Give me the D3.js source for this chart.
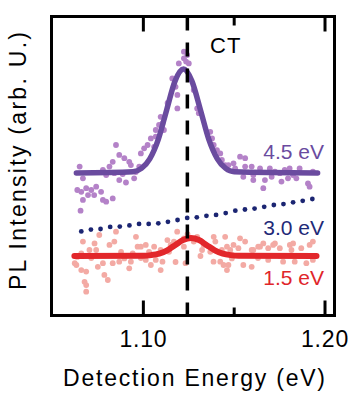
<!DOCTYPE html>
<html><head><meta charset="utf-8">
<script src="https://cdn.jsdelivr.net/npm/d3@7"></script>
<style>body{margin:0;background:#fff}svg{display:block}text{font-family:"Liberation Sans",Arial,Helvetica,sans-serif}</style>
</head><body><svg id="c" width="356" height="400"></svg>
<script>
const xMajorTicks = [1.10, 1.20];
const xMinorTicks = [1.15];
const ctEnergy = 1.1245;

const purpleEnergy = [1.0652,1.0670,1.0639,1.0661,1.0688,1.0716,1.0743,1.0770,1.0657,1.0670,1.0780,1.0798,1.0732,1.0698,1.0834,1.0780,1.0798,1.0816,1.0843,1.0852,1.0834,1.0870,1.0898,1.0925,1.0952,1.0934,1.0989,1.0980,1.1007,1.1026,1.1044,1.1071,1.1089,1.0870,1.1098,1.1108,1.1062,1.1116,1.1162,1.1180,1.1190,1.1190,1.1198,1.1226,1.1244,1.1253,1.1226,1.1280,1.1299,1.1308,1.1371,1.1381,1.1390,1.1408,1.1426,1.1435,1.1453,1.1499,1.1535,1.1553,1.1471,1.1508,1.1563,1.1563,1.1599,1.1608,1.1608,1.1645,1.1663,1.1672,1.1699,1.1709,1.1727,1.1763,1.1781,1.1799,1.1808,1.1845,1.1863,1.1909,1.1918,1.1936,1.1827,1.1754,1.1071,1.1136,1.1238,1.0889,1.0961,1.0907];
const purpleIntensity = [49.8,45.9,42.0,41.4,42.6,42.0,43.1,41.4,35.1,38.7,38.7,38.1,40.3,40.3,39.2,48.7,47.0,49.8,47.6,57.0,51.4,53.7,52.6,51.4,45.9,50.3,54.2,49.8,55.9,57.0,59.2,62.0,63.7,45.3,66.4,64.2,56.4,62.0,79.2,76.4,73.7,69.2,84.2,88.1,87.0,84.2,85.9,75.3,69.2,67.6,61.4,59.2,57.0,55.3,54.2,52.0,50.3,50.9,53.1,46.4,50.3,49.2,52.6,49.8,49.8,45.3,47.0,49.2,42.6,45.3,49.2,46.4,48.1,44.8,48.7,45.9,49.2,45.9,49.2,44.2,43.1,48.1,47.0,47.6,59.8,71.0,84.8,47.3,48.0,44.5];

const purpleFitEnergy = [1.0634,1.0945,1.0992,1.1038,1.1085,1.1131,1.1177,1.1224,1.1270,1.1317,1.1363,1.1410,1.1456,1.1503,1.1962];
const purpleFitIntensity = [47.7,48.1,49.2,52.4,58.9,68.7,78.3,82.3,78.3,68.7,58.9,52.4,49.2,48.1,47.7];

const navyEnergy = [1.0661,1.0714,1.0767,1.0820,1.0873,1.0926,1.0979,1.1032,1.1085,1.1138,1.1191,1.1244,1.1297,1.1350,1.1403,1.1456,1.1509,1.1562,1.1615,1.1668,1.1721,1.1774,1.1827,1.1880,1.1933];
const navyIntensity = [28.2,28.8,29.0,29.7,29.8,30.2,30.7,30.7,30.9,31.4,32.0,32.7,32.9,33.4,33.7,34.3,35.1,35.5,35.8,36.4,37.0,37.3,37.9,38.4,39.0];

const pinkEnergy = [1.0670,1.0634,1.0661,1.0688,1.0679,1.0688,1.0688,1.0734,1.0706,1.0743,1.0752,1.0780,1.0788,1.0807,1.0816,1.0843,1.0852,1.0834,1.0880,1.0898,1.0934,1.0925,1.0962,1.0971,1.0989,1.1016,1.1034,1.1062,1.1071,1.0625,1.0661,1.0870,1.0944,1.1016,1.1098,1.1135,1.1153,1.1171,1.1108,1.1098,1.1189,1.1226,1.1226,1.1280,1.1299,1.1335,1.1326,1.1371,1.1399,1.1389,1.1426,1.1453,1.1463,1.1463,1.1435,1.1490,1.1235,1.1144,1.1481,1.1499,1.1526,1.1563,1.1599,1.1635,1.1663,1.1727,1.1690,1.1754,1.1809,1.1818,1.1872,1.1936,1.1471,1.1553,1.1599,1.1836,1.1772,1.1900,1.1936,1.1690,1.1490,1.1390,1.1535,1.1645,1.1717,1.1827,1.1918,1.1608,1.1444,1.0639,1.0716,1.0760,1.0989,1.1044,1.1180,1.1246,1.1317,1.1634,1.1754,1.1863];
const pinkIntensity = [24.8,17.0,15.3,14.8,11.4,8.1,10.3,24.2,22.0,22.0,16.4,17.6,13.7,12.0,23.7,24.8,28.1,17.6,21.4,19.2,18.1,15.9,26.4,23.1,23.1,23.7,21.4,23.1,18.7,17.6,20.9,18.1,20.9,18.7,22.0,25.3,23.7,24.8,18.1,15.3,28.1,25.9,23.1,24.8,26.4,23.7,22.0,21.4,24.8,18.1,18.1,26.4,23.1,15.3,22.0,19.2,17.6,21.4,22.0,23.7,22.6,24.8,22.0,23.1,24.2,24.2,22.6,22.6,23.7,22.0,22.6,24.8,17.0,17.0,16.4,18.1,18.1,17.6,18.7,18.7,20.3,26.4,25.9,23.1,23.7,24.2,23.7,22.0,17.0,19.7,19.3,27.0,19.3,17.0,18.0,27.3,20.0,19.3,20.0,20.0];

const redFitEnergy = [1.0623,1.1003,1.1046,1.1090,1.1134,1.1177,1.1221,1.1265,1.1309,1.1352,1.1396,1.1440,1.1483,1.1527,1.1956];
const redFitIntensity = [20.0,20.1,20.3,20.8,21.9,23.6,25.3,26.0,25.3,23.6,21.9,20.8,20.3,20.1,20.0];

const seriesLabels = ["4.5 eV", "3.0 eV", "1.5 eV"];

const svg = d3.select("#c");
const L = 51.5, R = 334.5, T = 16.5, B = 315.5;
const x = d3.scaleLinear().domain([1.0497, 1.2055]).range([L, R]);
const y = d3.scaleLinear().domain([0, 100]).range([316, 16]);

const zip = (a, b) => a.map((v, i) => [v, b[i]]);

// pink scatter
svg.append("g").selectAll("circle").data(zip(pinkEnergy, pinkIntensity)).join("circle")
  .attr("cx", d => x(d[0])).attr("cy", d => y(d[1])).attr("r", 2.9).attr("fill", "#f3aaa4");
// purple scatter
svg.append("g").selectAll("circle").data(zip(purpleEnergy, purpleIntensity)).join("circle")
  .attr("cx", d => x(d[0])).attr("cy", d => y(d[1])).attr("r", 2.9).attr("fill", "#b482c8");

const line = d3.line().x(d => x(d[0])).y(d => y(d[1])).curve(d3.curveMonotoneX);
svg.append("path").datum(zip(redFitEnergy, redFitIntensity)).attr("d", line)
  .attr("fill", "none").attr("stroke", "#e2272b").attr("stroke-width", 6).attr("stroke-linecap", "round");
svg.append("path").datum(zip(purpleFitEnergy, purpleFitIntensity)).attr("d", line)
  .attr("fill", "none").attr("stroke", "#6a4b9f").attr("stroke-width", 5.5).attr("stroke-linecap", "round");

// navy dots
svg.append("g").selectAll("circle").data(zip(navyEnergy, navyIntensity)).join("circle")
  .attr("cx", d => x(d[0])).attr("cy", d => y(d[1])).attr("r", 2.4).attr("fill", "#1b2572");

// dashed CT line
svg.append("line").attr("x1", x(ctEnergy)).attr("x2", x(ctEnergy)).attr("y1", T).attr("y2", B)
  .attr("stroke", "#000").attr("stroke-width", 3.5).attr("stroke-dasharray", "14,12");

// axes ticks
function styleAxis(g) {
  g.select(".domain").remove();
  g.selectAll(".tick line").attr("stroke", "#000").attr("stroke-width", 3);
}
svg.append("g").attr("transform", `translate(0,${B})`)
  .call(d3.axisBottom(x).tickValues(xMajorTicks).tickSizeInner(-15).tickSizeOuter(0).tickPadding(15).tickFormat(d3.format(".2f")))
  .call(styleAxis)
  .call(g => g.selectAll(".tick text").attr("font-size", 23).attr("fill", "#000").attr("letter-spacing", 0.8)
    .attr("font-family", '"Liberation Sans",Arial,sans-serif'));
svg.append("g").attr("transform", `translate(0,${B})`)
  .call(d3.axisBottom(x).tickValues(xMinorTicks).tickSizeInner(-8).tickSizeOuter(0).tickFormat(""))
  .call(styleAxis);
svg.append("g").attr("transform", `translate(0,${T})`)
  .call(d3.axisTop(x).tickValues(xMajorTicks).tickSizeInner(-15).tickSizeOuter(0).tickFormat(""))
  .call(styleAxis);
svg.append("g").attr("transform", `translate(0,${T})`)
  .call(d3.axisTop(x).tickValues(xMinorTicks).tickSizeInner(-9).tickSizeOuter(0).tickFormat(""))
  .call(styleAxis);

// frame
svg.append("rect").attr("x", L).attr("y", T).attr("width", R - L).attr("height", B - T)
  .attr("fill", "none").attr("stroke", "#000").attr("stroke-width", 3);

// labels
svg.append("text").attr("x", 210).attr("y", 53).attr("font-size", 22).attr("letter-spacing", 1).text("CT");
const labelColors = ["#6a4b9f", "#1f2a78", "#e0262a"];
const labelY = [159, 234.5, 284.5];
seriesLabels.forEach((t, i) => {
  svg.append("text").attr("x", 324).attr("y", labelY[i]).attr("text-anchor", "end")
    .attr("font-size", 21).attr("fill", labelColors[i]).text(t);
});

svg.append("text").attr("x", 194).attr("y", 386).attr("text-anchor", "middle")
  .attr("font-size", 23).attr("textLength", 262).attr("lengthAdjust", "spacing").text("Detection Energy (eV)");
svg.append("text").attr("transform", "translate(26,161) rotate(-90)").attr("text-anchor", "middle")
  .attr("font-size", 23).attr("textLength", 258).attr("lengthAdjust", "spacing").text("PL Intensity (arb. U.)");
</script></body></html>
